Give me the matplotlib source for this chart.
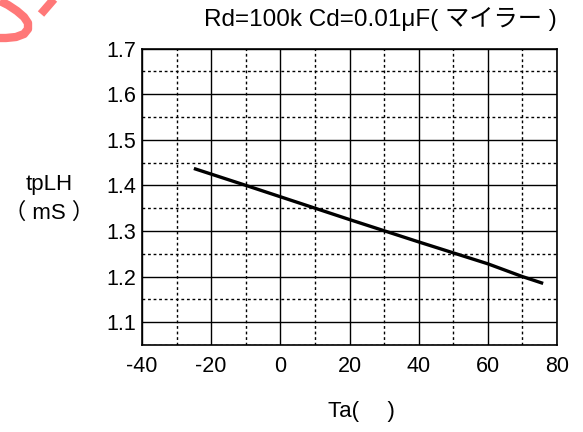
import numpy as np
import matplotlib
matplotlib.use("Agg")
import matplotlib.pyplot as plt
from matplotlib.ticker import MultipleLocator
from matplotlib.lines import Line2D

# data
ta = [-25, -10, 0, 20, 40, 60, 70, 76]
tplh = [1.437, 1.400, 1.375, 1.325, 1.276, 1.228, 1.200, 1.185]

x_ticks = [-40, -20, 0, 20, 40, 60, 80]
y_ticks = [1.1, 1.2, 1.3, 1.4, 1.5, 1.6, 1.7]

title = "Rd=100k Cd=0.01μF( マイラー )"
ylabel_top = "tpLH"
ylabel_unit = "（ mS ）"
xlabel = "Ta(　 )"

plt.rcParams['font.family'] = ['Liberation Sans', 'Noto Sans CJK JP', 'DejaVu Sans']

W, H = 583, 432
fig = plt.figure(figsize=(W/100, H/100), dpi=100)
ax = fig.add_axes([142/W, 1 - 345/H, (557-142)/W, (345-48.5)/H])

ax.plot(ta, tplh, color='black', lw=2.4, solid_capstyle='butt', zorder=3)

ax.set_xlim(-40, 80)
ax.set_ylim(1.05, 1.7)
ax.set_xticks(x_ticks)
ax.set_yticks(y_ticks)
ax.xaxis.set_minor_locator(MultipleLocator(10))
ax.yaxis.set_minor_locator(MultipleLocator(0.05))
ax.set_xticklabels([str(v) for v in x_ticks])
ax.set_yticklabels([f"{v:.1f}" for v in y_ticks])

ax.grid(which='major', color='black', lw=1.0, ls='-')
ax.grid(which='minor', color='black', lw=1.0, ls=(0, (2, 2)))
ax.set_axisbelow(True)
ax.tick_params(which='both', length=0)
ax.tick_params(axis='x', pad=8, labelsize=15.5)
ax.tick_params(axis='y', pad=4, labelsize=15.5)
for s in ax.spines.values():
    s.set_linewidth(1.2)
    s.set_color('black')

ax.text(1.0, 1.0 + 30/296.5, title, transform=ax.transAxes, ha='right', va='center',
        fontsize=17.5)

fig.text(49/W, 1 - 185/H, ylabel_top, ha='center', va='center', fontsize=16)
fig.text(49/W, 1 - 213/H, ylabel_unit, ha='center', va='center', fontsize=16)
fig.text(361/W, 1 - 412/H, xlabel, ha='center', va='center', fontsize=16)

# red watermark fragment in the corner (pixel path)
wm_x = [0, 8, 17, 24, 28, 28, 24, 16, 6, 0]
wm_y = [1, 5, 11, 17, 23, 29, 34, 37, 38, 38]
fig.add_artist(Line2D([v/W for v in wm_x], [1 - v/H for v in wm_y],
                      transform=fig.transFigure, color='#ff7878', lw=6,
                      solid_capstyle='butt'))
fig.add_artist(Line2D([41/W, 54/W], [1 - 14/H, 1 + 1/H],
                      transform=fig.transFigure, color='#ff7878', lw=6,
                      solid_capstyle='butt'))

fig.savefig("out.png", dpi=100)
